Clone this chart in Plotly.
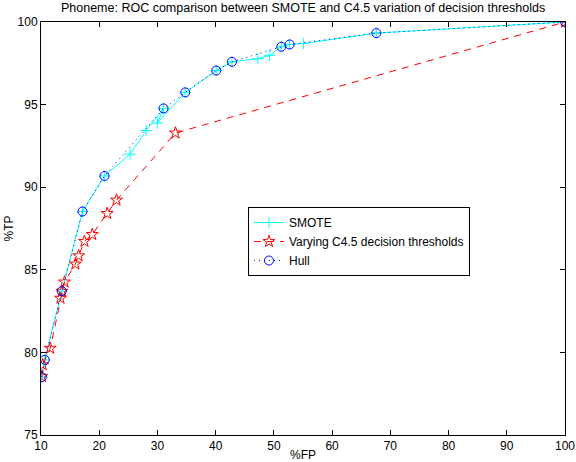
import plotly.graph_objects as go

# SMOTE ROC points
smote_fp = [10.14, 10.65, 13.57, 17.13, 20.91, 25.3, 28.07, 31.05, 29.97, 34.77, 40.1, 42.8, 47.25, 49.26, 51.27, 52.7, 55.1, 67.6, 100]
smote_tp = [78.5, 79.55, 83.71, 88.53, 90.68, 92.0, 93.43, 94.77, 93.88, 95.74, 97.06, 97.59, 97.78, 97.98, 98.5, 98.64, 98.7, 99.33, 100]

# Varying C4.5 decision thresholds
c45_fp = [10.14, 10.3, 11.58, 13.35, 13.6, 14.04, 15.9, 16.47, 17.47, 18.8, 21.37, 22.97, 33.1, 100]
c45_tp = [78.55, 79.25, 80.25, 83.28, 83.7, 84.26, 85.35, 85.85, 86.72, 87.14, 88.41, 89.22, 93.28, 100]

# Convex hull
hull_fp = [10.14, 10.65, 13.57, 17.13, 20.91, 31.05, 34.77, 40.1, 42.8, 51.27, 52.7, 67.6, 100]
hull_tp = [78.5, 79.55, 83.71, 88.53, 90.68, 94.77, 95.74, 97.06, 97.59, 98.5, 98.64, 99.33, 100]

x_ticks = [10, 20, 30, 40, 50, 60, 70, 80, 90, 100]
y_ticks = [75, 80, 85, 90, 95, 100]

FONT = "Liberation Sans, Arial, sans-serif"

fig = go.Figure()
fig.add_trace(go.Scatter(
    x=smote_fp, y=smote_tp, name="SMOTE", mode="lines+markers",
    line=dict(color="#00FFFF", width=1),
    marker=dict(symbol="cross-thin-open", size=8, color="#00FFFF",
                line=dict(color="#00FFFF", width=1)),
))
fig.add_trace(go.Scatter(
    x=c45_fp, y=c45_tp, name="Varying C4.5 decision thresholds", mode="lines+markers",
    line=dict(color="#FF0000", width=1, dash="7px,6px"),
    marker=dict(symbol="star-open", size=9, color="#FF0000",
                line=dict(color="#FF0000", width=1)),
))
fig.add_trace(go.Scatter(
    x=hull_fp, y=hull_tp, name="Hull", mode="lines+markers",
    line=dict(color="#0000FF", width=1, dash="1px,4px"),
    marker=dict(symbol="circle-open", size=9, color="#0000FF",
                line=dict(color="#0000FF", width=1)),
))

axis_common = dict(
    showgrid=False, zeroline=False, showline=True, linecolor="black", linewidth=1,
    ticks="inside", ticklen=5, tickcolor="black", mirror="allticks",
    tickfont=dict(family=FONT, size=12, color="black"),
)

fig.update_layout(
    width=576, height=462,
    margin=dict(l=41, r=11, t=22, b=27, autoexpand=False),
    paper_bgcolor="white", plot_bgcolor="white",
    font=dict(family=FONT, size=12, color="black"),
    title=dict(text="Phoneme: ROC comparison between SMOTE and C4.5 variation of decision thresholds",
               x=0.5262, xanchor="center", y=0.992, yanchor="top",
               font=dict(family=FONT, size=12.5, color="black")),
    xaxis=dict(range=[10, 100], tickvals=x_ticks, **axis_common),
    yaxis=dict(range=[75, 100], tickvals=y_ticks, **axis_common),
    legend=dict(x=0.395, y=0.552, xanchor="left", yanchor="top",
                bgcolor="white", bordercolor="black", borderwidth=1,
                font=dict(family=FONT, size=12, color="black"),
                tracegroupgap=0, itemwidth=30),
    showlegend=True,
)

fig.add_annotation(text="%FP", xref="paper", yref="paper", x=0.5, y=0,
                   yshift=-11, xanchor="center", yanchor="top", showarrow=False,
                   font=dict(family=FONT, size=12, color="black"))
fig.add_annotation(text="%TP", xref="paper", yref="paper", x=0, y=0.5,
                   xshift=-24, xanchor="right", yanchor="middle", textangle=-90,
                   showarrow=False, font=dict(family=FONT, size=12, color="black"))

fig.write_html("out.html")
